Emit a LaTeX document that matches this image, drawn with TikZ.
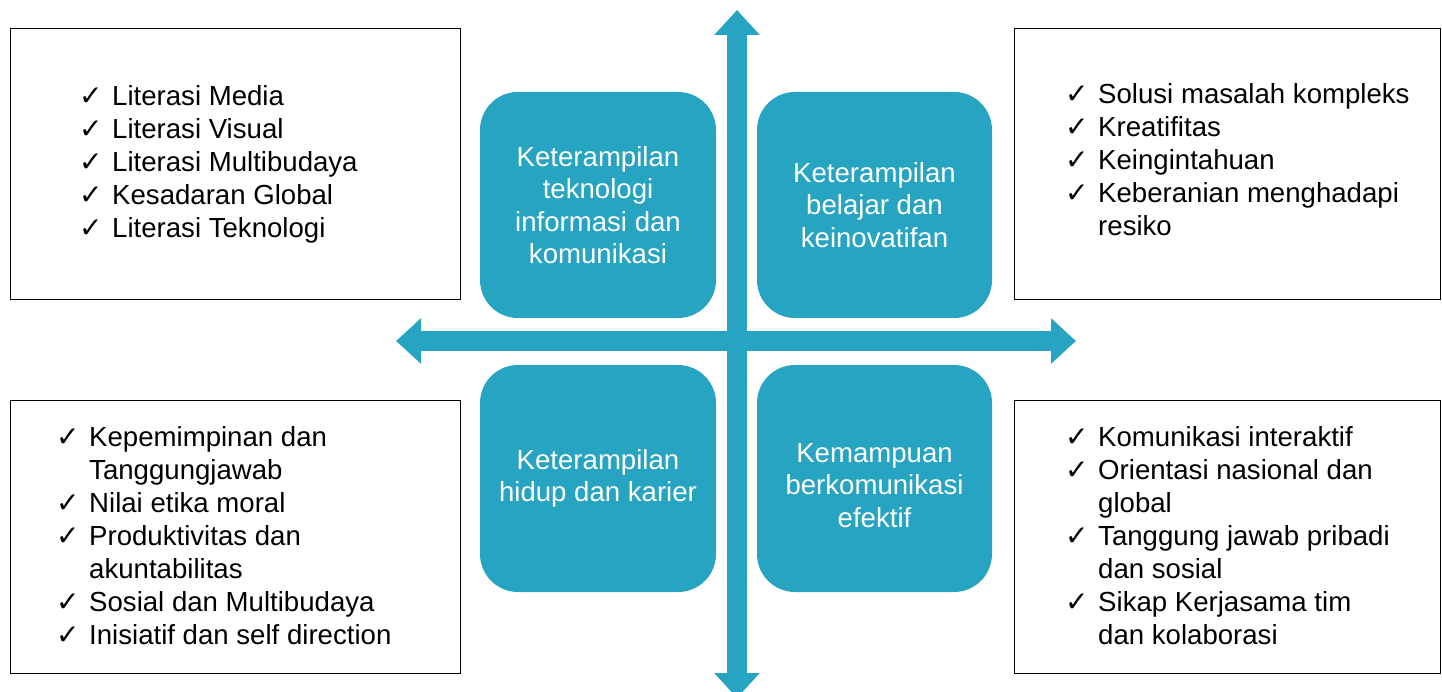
\documentclass[tikz,border=0pt]{standalone}
\usepackage{fontspec}
\setmainfont{Liberation Sans}
\newfontfamily\symfont{DejaVu Sans}
\usetikzlibrary{arrows.meta}
\definecolor{tealc}{HTML}{26A4C2}
\newcommand\ck{\makebox[33pt][l]{\symfont\fontsize{28}{28}\selectfont ✓}}
\begin{document}
\begin{tikzpicture}[x=1pt,y=-1pt,
  listbox/.style={draw=black, line width=1.3pt, fill=white, anchor=north west, inner sep=0pt},
  tealbox/.style={fill=tealc, rounded corners=38pt, inner sep=0pt},
  tealtext/.style={text=white, align=center, inner sep=0pt, font=\fontsize{27.6}{32.5}\selectfont},
  listtext/.style={anchor=base west, inner sep=0pt, font=\fontsize{27.6}{33}\selectfont},
  axis/.style={draw=tealc, line width=20pt, {Triangle[length=25pt,width=44pt]}-{Triangle[length=25pt,width=44pt]}}
]
\useasboundingbox (0,0) rectangle (1442,692);

% list boxes
\node[listbox, minimum width=450pt, minimum height=271pt] (btl) at (10,28) {};
\node[listbox, minimum width=426pt, minimum height=271pt] (btr) at (1014,28) {};
\node[listbox, minimum width=450pt, minimum height=273pt] (bbl) at (10,400) {};
\node[listbox, minimum width=426pt, minimum height=273pt] (bbr) at (1014,400) {};

\node[listtext] (ltl) at (79,106) {\begin{tabular}[t]{@{}l@{}l@{}}
\ck & Literasi Media\\
\ck & Literasi Visual\\
\ck & Literasi Multibudaya\\
\ck & Kesadaran Global\\
\ck & Literasi Teknologi
\end{tabular}};

\node[listtext] (ltr) at (1065,104) {\begin{tabular}[t]{@{}l@{}l@{}}
\ck & Solusi masalah kompleks\\
\ck & Kreatifitas\\
\ck & Keingintahuan\\
\ck & Keberanian menghadapi\\
 & resiko
\end{tabular}};

\node[listtext] (lbl) at (56,446) {\begin{tabular}[t]{@{}l@{}l@{}}
\ck & Kepemimpinan dan\\
 & Tanggungjawab\\
\ck & Nilai etika moral\\
\ck & Produktivitas dan\\
 & akuntabilitas\\
\ck & Sosial dan Multibudaya\\
\ck & Inisiatif dan self direction
\end{tabular}};

\node[listtext] (lbr) at (1065,446) {\begin{tabular}[t]{@{}l@{}l@{}}
\ck & Komunikasi interaktif\\
\ck & Orientasi nasional dan\\
 & global\\
\ck & Tanggung jawab pribadi\\
 & dan sosial\\
\ck & Sikap Kerjasama tim\\
 & dan kolaborasi
\end{tabular}};

% teal boxes
\node[tealbox, minimum width=236pt, minimum height=226pt] (ttl) at (598,205) {};
\node[tealbox, minimum width=235pt, minimum height=226pt] (ttr) at (874.5,205) {};
\node[tealbox, minimum width=236pt, minimum height=227pt] (tbl) at (598,478.5) {};
\node[tealbox, minimum width=235pt, minimum height=227pt] (tbr) at (874.5,478.5) {};

\node[tealtext] (xtl) at (ttl.center) {Keterampilan\\teknologi\\informasi dan\\komunikasi};
\node[tealtext] (xtr) at (ttr.center) {Keterampilan\\belajar dan\\keinovatifan};
\node[tealtext] (xbl) at (tbl.center) {Keterampilan\\hidup dan karier};
\node[tealtext, yshift=-7pt] (xbr) at (tbr.center) {Kemampuan\\berkomunikasi\\efektif};

% axes
\coordinate (vt) at (737,10);
\coordinate (vb) at (737,698);
\coordinate (hl) at (396,341);
\coordinate (hr) at (1076,341);
\draw[axis] (vt) -- (vb);
\draw[axis] (hl) -- (hr);
\end{tikzpicture}
\end{document}
